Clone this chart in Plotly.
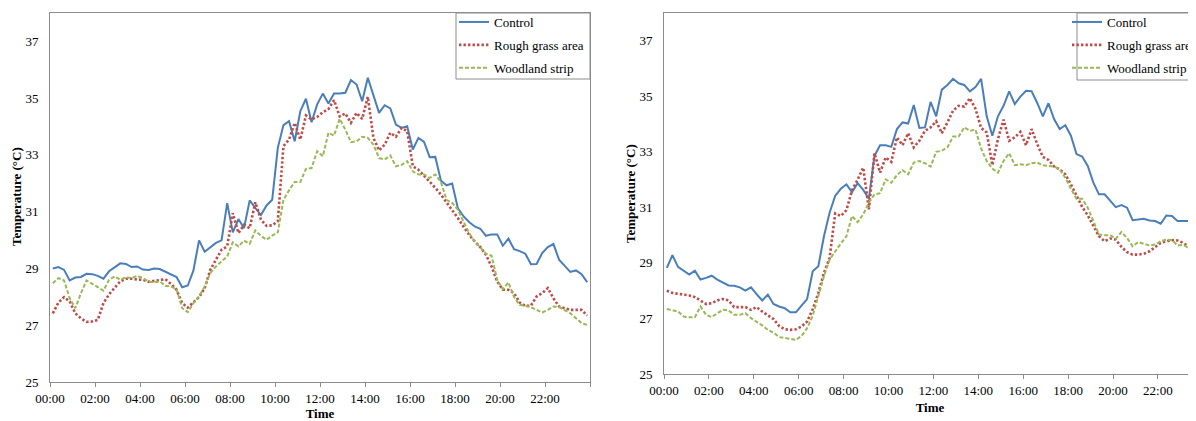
import plotly.graph_objects as go

# 15-minute logging intervals (00:00 ... 23:45); each value plotted at its interval centre
slot_labels = [f"{(15 * i) // 60:02d}:{(15 * i) % 60:02d}" for i in range(96)]
tick_labels = ["00:00", "02:00", "04:00", "06:00", "08:00", "10:00",
               "12:00", "14:00", "16:00", "18:00", "20:00", "22:00", ""]
tick_hours = [0, 2, 4, 6, 8, 10, 12, 14, 16, 18, 20, 22, 24]
y_ticks = [25, 27, 29, 31, 33, 35, 37]

# ---- Left panel ----
left_control = [
    29.0, 29.05, 28.95, 28.58, 28.68, 28.7, 28.81, 28.8, 28.74, 28.64, 28.9, 29.05,
    29.18, 29.16, 29.05, 29.07, 28.96, 28.95, 29.0, 28.98, 28.88, 28.8, 28.7, 28.34,
    28.4, 28.93, 29.99, 29.59, 29.74, 29.9, 29.99, 31.3, 30.27, 30.74, 30.42, 31.4,
    31.13, 30.88, 31.22, 31.42, 33.25, 34.05, 34.19, 33.48, 34.54, 34.98, 34.15, 34.78,
    35.16, 34.81, 35.16, 35.16, 35.19, 35.64, 35.48, 34.89, 35.72, 35.13, 34.48, 34.75,
    34.64, 34.07, 33.95, 34.01, 33.19, 33.6, 33.46, 32.92, 32.93, 32.09, 31.93, 31.99,
    31.13, 30.84, 30.64, 30.48, 30.4, 30.15, 30.2, 30.2, 29.8, 30.05, 29.68, 29.61,
    29.52, 29.15, 29.16, 29.54, 29.75, 29.86, 29.31, 29.09, 28.88, 28.93, 28.8, 28.52,
]
left_rough = [
    27.42, 27.8, 27.99, 27.84, 27.42, 27.24, 27.12, 27.13, 27.19, 27.78, 28.09, 28.34,
    28.55, 28.64, 28.64, 28.61, 28.6, 28.53, 28.56, 28.59, 28.62, 28.46, 28.25, 27.78,
    27.62, 27.81, 27.99, 28.31, 28.95, 29.31, 29.66, 29.78, 30.95, 30.25, 30.54, 30.42,
    31.33, 30.72, 30.5, 30.52, 30.66, 33.31, 33.54, 34.13, 33.54, 34.39, 34.25, 34.34,
    34.5, 34.62, 34.93, 34.36, 34.46, 34.13, 34.48, 34.27, 35.05, 33.6, 33.16, 33.36,
    33.78, 33.64, 33.95, 33.84, 32.6, 32.48, 32.27, 32.04, 31.84, 31.6, 31.33, 31.07,
    30.78, 30.48, 30.19, 29.95, 29.75, 29.48, 29.07, 28.54, 28.25, 28.25, 28.13, 27.8,
    27.68, 27.69, 28.01, 28.13, 28.31, 27.95, 27.66, 27.6, 27.54, 27.54, 27.54, 27.34,
]
left_wood = [
    28.48, 28.66, 28.58, 27.95, 27.6, 28.13, 28.58, 28.46, 28.34, 28.22, 28.6, 28.72,
    28.6, 28.69, 28.66, 28.74, 28.66, 28.54, 28.51, 28.55, 28.39, 28.36, 28.27, 27.6,
    27.46, 27.78, 28.01, 28.36, 28.84, 29.07, 29.25, 29.42, 29.92, 29.78, 29.98, 29.87,
    30.34, 30.15, 30.01, 30.16, 30.27, 31.42, 31.75, 32.05, 32.05, 32.51, 32.54, 33.13,
    32.95, 33.78, 33.68, 34.27, 33.89, 33.45, 33.48, 33.64, 33.6, 33.36, 32.89, 32.84,
    32.98, 32.6, 32.65, 32.78, 32.42, 32.31, 32.31, 32.19, 32.31, 32.04, 31.42, 31.31,
    31.07, 30.66, 30.25, 29.95, 29.72, 29.52, 29.45, 28.6, 28.27, 28.51, 27.99, 27.72,
    27.68, 27.64, 27.54, 27.45, 27.54, 27.66, 27.64, 27.52, 27.42, 27.25, 27.07, 27.01,
]

# ---- Right panel ----
right_control = [
    28.82, 29.28, 28.86, 28.72, 28.58, 28.72, 28.4, 28.46, 28.54, 28.4, 28.28, 28.19,
    28.18, 28.12, 28.0, 28.12, 27.88, 27.65, 27.86, 27.52, 27.43, 27.37, 27.22, 27.22,
    27.46, 27.7, 28.7, 28.88, 29.96, 30.81, 31.41, 31.67, 31.83, 31.55, 31.87, 31.63,
    31.31, 32.86, 33.24, 33.24, 33.18, 33.82, 34.06, 34.02, 34.69, 33.86, 33.88, 34.8,
    34.28, 35.24, 35.41, 35.63, 35.47, 35.41, 35.18, 35.33, 35.63, 34.28, 33.58, 34.28,
    34.66, 35.18, 34.72, 34.99, 35.2, 35.18, 34.76, 34.28, 34.75, 34.18, 33.82, 33.96,
    33.58, 32.92, 32.83, 32.49, 31.89, 31.47, 31.47, 31.25, 31.01, 31.08, 30.99, 30.54,
    30.57, 30.59, 30.53, 30.51, 30.41, 30.71, 30.69, 30.51, 30.51, 30.51, 30.51, 30.5,
]
right_rough = [
    28.0, 27.92, 27.89, 27.86, 27.83, 27.77, 27.65, 27.52, 27.55, 27.65, 27.7, 27.65,
    27.41, 27.41, 27.41, 27.31, 27.41, 27.25, 27.13, 26.98, 26.73, 26.61, 26.59, 26.61,
    26.71, 26.89, 27.34, 27.92, 28.64, 29.18, 30.78, 30.69, 30.9, 31.62, 32.0, 32.43,
    30.93, 32.95, 32.25, 32.8, 32.64, 33.52, 33.24, 33.67, 33.16, 33.4, 33.76, 33.88,
    34.1, 33.67, 34.06, 34.48, 34.66, 34.63, 34.93, 34.55, 33.86, 33.7, 32.52, 33.46,
    34.16, 33.4, 33.52, 33.72, 33.24, 33.82, 33.28, 32.82, 32.71, 32.47, 32.37, 32.19,
    31.83, 31.41, 31.02, 30.71, 30.33, 29.96, 29.78, 29.88, 29.84, 29.58, 29.39, 29.3,
    29.3, 29.33, 29.42, 29.57, 29.72, 29.78, 29.82, 29.81, 29.72, 29.58, 27.92, 27.8,
]
right_wood = [
    27.34, 27.29, 27.25, 27.07, 27.04, 27.04, 27.43, 27.13, 27.05, 27.19, 27.31, 27.29,
    27.13, 27.13, 27.19, 27.01, 26.89, 26.75, 26.59, 26.49, 26.33, 26.29, 26.25, 26.23,
    26.37, 26.65, 27.1, 27.8, 28.52, 29.12, 29.42, 29.7, 29.96, 30.69, 30.47, 30.75,
    31.17, 31.47, 31.51, 32.01, 31.89, 32.16, 32.34, 32.19, 32.61, 32.67, 32.59, 32.47,
    33.0, 33.04, 33.16, 33.55, 33.55, 33.88, 33.76, 33.8, 33.12, 32.67, 32.4, 32.25,
    32.67, 32.95, 32.52, 32.55, 32.52, 32.59, 32.61, 32.52, 32.49, 32.47, 32.37, 32.07,
    31.67, 31.31, 31.31, 30.99, 30.51, 30.02, 30.0, 30.0, 29.87, 30.11, 29.9, 29.6,
    29.75, 29.7, 29.63, 29.66, 29.78, 29.84, 29.82, 29.63, 29.65, 29.54, 29.6, 29.6,
]

series_names = ["Control", "Rough grass area", "Woodland strip"]


# x position (hours) = centre of each 15-min slot
def slot_centre(lbl):
    h, m = lbl.split(":")
    return int(h) + (int(m) + 7.5) / 60.0


hours = [slot_centre(s) for s in slot_labels]

FONT = "Liberation Serif, Times New Roman, serif"
AX_COL = "#8c8c8c"
styles = [
    dict(color="#4A7EBB", width=2, dash="solid"),
    dict(color="#BE4B48", width=2.6, dash="2.4px,2.1px"),
    dict(color="#98B954", width=2, dash="4px,2px"),
]

fig = go.Figure()
panels = [
    ([left_control, left_rough, left_wood], "x", "y", "legend"),
    ([right_control, right_rough, right_wood], "x2", "y2", "legend2"),
]
for data, xa, ya, lg in panels:
    for name, vals, st in zip(series_names, data, styles):
        fig.add_trace(go.Scatter(
            x=hours, y=vals, mode="lines", name=name, line=st,
            xaxis=xa, yaxis=ya, legend=lg, legendgroup=name + lg,
            hovertemplate="%{y:.2f} °C<extra>" + name + "</extra>",
        ))

# The page body adds an 8 px margin, so the figure is 8 px smaller in both directions
OFF = 8
W, H = 1196 - OFF, 421 - OFF


def fx(px):
    return (px - OFF) / W


def fy(py):
    return (421 - py) / H


common_x = dict(
    tickmode="array", tickvals=tick_hours, ticktext=tick_labels,
    showline=True, linecolor=AX_COL, linewidth=1, mirror=True,
    ticks="outside", ticklen=4, tickcolor=AX_COL, showgrid=False, zeroline=False,
    tickfont=dict(family=FONT, size=13, color="#000"),
    title=dict(text="Time", font=dict(family=FONT, size=13, color="#000", weight="bold"), standoff=6),
)
common_y = dict(
    range=[25, 38], tickmode="array", tickvals=y_ticks,
    showline=True, linecolor=AX_COL, linewidth=1,
    ticks="", showgrid=False, zeroline=False, ticklabelstandoff=8,
    tickfont=dict(family=FONT, size=13, color="#000"),
)

legend_common = dict(
    yanchor="top", y=fy(7), borderwidth=0, bgcolor="rgba(0,0,0,0)",
    font=dict(family=FONT, size=13, color="#000"),
    traceorder="grouped", tracegroupgap=3,
)

title_font = dict(family=FONT, size=13, color="#000", weight="bold")
fig.update_layout(
    width=W, height=H,
    margin=dict(l=0, r=0, t=0, b=0, autoexpand=False),
    paper_bgcolor="white", plot_bgcolor="white",
    font=dict(family=FONT, size=13, color="#000"),
    xaxis=dict(common_x, domain=[fx(50), fx(590)], range=[0, 24], anchor="y"),
    yaxis=dict(common_y, domain=[fy(382), fy(13)], anchor="x", mirror=True),
    xaxis2=dict(common_x, domain=[fx(664), 1.0], range=[0, 532 / 22.45], anchor="y2"),
    yaxis2=dict(common_y, domain=[fy(374), fy(13)], anchor="x2", mirror=False),
    legend=dict(legend_common, x=fx(589), xanchor="right"),
    legend2=dict(legend_common, x=fx(1067), xanchor="left"),
    showlegend=True,
    annotations=[
        dict(text="Temperature (°C)", textangle=-90, xref="paper", yref="paper",
             x=fx(16), y=fy(197), xanchor="center", yanchor="middle", showarrow=False, font=title_font),
        dict(text="Temperature (°C)", textangle=-90, xref="paper", yref="paper",
             x=fx(630), y=fy(194), xanchor="center", yanchor="middle", showarrow=False, font=title_font),
    ],
)
# legend frames
fig.add_shape(type="rect", xref="paper", yref="paper", x0=fx(456), x1=fx(590), y0=fy(79), y1=fy(13),
              line=dict(color=AX_COL, width=1), fillcolor="rgba(0,0,0,0)", layer="above")
fig.add_shape(type="rect", xref="paper", yref="paper", x0=fx(1077), x1=1.2, y0=fy(80), y1=fy(13),
              line=dict(color=AX_COL, width=1), fillcolor="rgba(0,0,0,0)", layer="above")

fig.write_html("out.html")
